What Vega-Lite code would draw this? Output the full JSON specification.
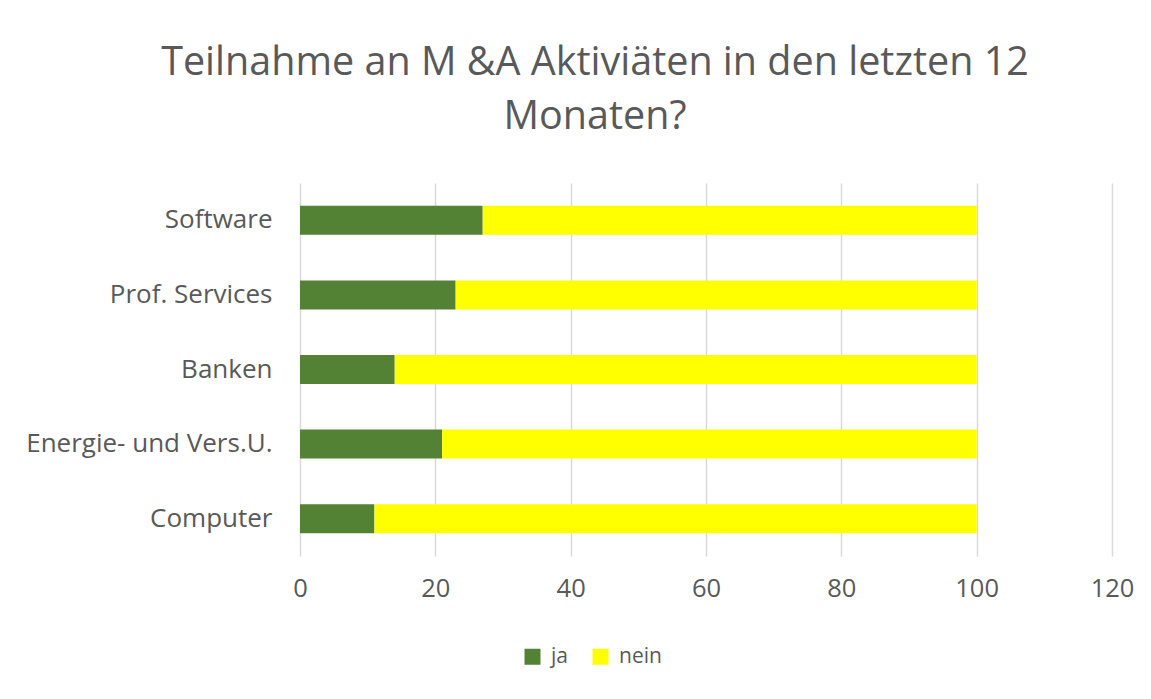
{
  "$schema": "https://vega.github.io/schema/vega-lite/v6.json",
  "autosize": "none",
  "width": 812,
  "height": 373,
  "padding": {"left": 300, "top": 183, "right": 39, "bottom": 143},
  "background": "white",
  "config": {"view": {"stroke": null}},
  "title": {
    "text": ["Teilnahme an M &A Aktiviäten in den letzten 12", "Monaten?"],
    "font": "Open Sans",
    "fontSize": 39.5,
    "fontWeight": "normal",
    "color": "#595959",
    "lineHeight": 54,
    "anchor": "middle",
    "dx": -111,
    "offset": 46
  },
  "data": {
    "values": [
      {"Branche": "Software", "Antwort": "ja", "Wert": 27},
      {"Branche": "Software", "Antwort": "nein", "Wert": 73},
      {"Branche": "Prof. Services", "Antwort": "ja", "Wert": 23},
      {"Branche": "Prof. Services", "Antwort": "nein", "Wert": 77},
      {"Branche": "Banken", "Antwort": "ja", "Wert": 14},
      {"Branche": "Banken", "Antwort": "nein", "Wert": 86},
      {"Branche": "Energie- und Vers.U.", "Antwort": "ja", "Wert": 21},
      {"Branche": "Energie- und Vers.U.", "Antwort": "nein", "Wert": 79},
      {"Branche": "Computer", "Antwort": "ja", "Wert": 11},
      {"Branche": "Computer", "Antwort": "nein", "Wert": 89}
    ]
  },
  "mark": {"type": "bar", "size": 29},
  "encoding": {
    "y": {
      "field": "Branche",
      "type": "nominal",
      "sort": ["Software", "Prof. Services", "Banken", "Energie- und Vers.U.", "Computer"],
      "title": null,
      "axis": {
        "domain": false,
        "ticks": false,
        "labelFont": "Open Sans",
        "labelFontSize": 26,
        "labelColor": "#595959",
        "labelPadding": 28,
        "labelLimit": 300
      }
    },
    "x": {
      "field": "Wert",
      "type": "quantitative",
      "stack": "zero",
      "scale": {"domain": [0, 120], "nice": false},
      "title": null,
      "axis": {
        "values": [0, 20, 40, 60, 80, 100, 120],
        "domain": false,
        "ticks": false,
        "grid": true,
        "gridColor": "#d9d9d9",
        "gridWidth": 1.5,
        "labelFlush": false,
        "labelFont": "Open Sans",
        "labelFontSize": 25.5,
        "labelColor": "#595959",
        "labelPadding": 20
      }
    },
    "color": {
      "field": "Antwort",
      "type": "nominal",
      "scale": {"domain": ["ja", "nein"], "range": ["#548235", "#ffff00"]},
      "legend": {
        "title": null,
        "orient": "none",
        "direction": "horizontal",
        "legendX": 222,
        "legendY": 463,
        "symbolType": "square",
        "symbolSize": 256,
        "symbolStrokeWidth": 0,
        "labelFont": "Open Sans",
        "labelFontSize": 21,
        "labelColor": "#595959",
        "labelOffset": 8,
        "columnPadding": 22
      }
    },
    "order": {"field": "Antwort", "sort": "ascending"}
  }
}
